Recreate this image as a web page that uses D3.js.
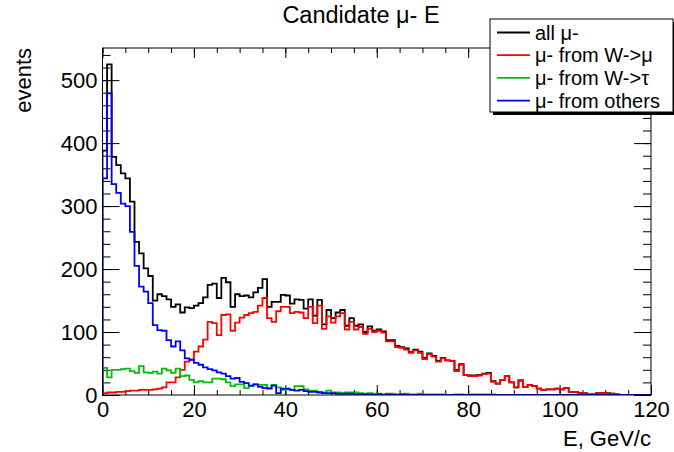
<!DOCTYPE html>
<html>
<head>
<meta charset="utf-8">
<script src="https://cdn.jsdelivr.net/npm/d3@7"></script>
<style>
  body { margin: 0; background: #fff; }
  svg { display: block; font-family: "Liberation Sans", Arial, Helvetica, sans-serif; }
</style>
</head>
<body>
<svg id="chart" width="674" height="452"></svg>
<script>
// ---- data (bin width 1 GeV, 0..120) ----
const binEdges = [0, 120];
const allMu = [
  388, 525, 378, 365, 352, 344, 307, 243, 225, 201,
  189, 150, 160, 157, 152, 140, 144, 131, 139, 138,
  142, 146, 155, 175, 177, 154, 186, 179, 140, 160,
  157, 158, 155, 163, 170, 184, 140, 148, 148, 159,
  158, 145, 152, 151, 137, 152, 126, 151, 112, 135,
  122, 131, 135, 110, 122, 110, 112, 100, 109, 102,
  104, 101, 87, 87, 78, 76, 74, 68, 72, 69,
  59, 66, 62, 54, 59, 55, 54, 40, 49, 32,
  31, 31, 32, 34, 35, 22, 18, 24, 30, 20,
  12, 23, 13, 16, 14, 10, 8, 9, 9, 10,
  9, 11, 5, 5, 3, 3, 1, 1, 3, 3,
  3, 2, 1, 0, 0, 0, 0, 0, 0, 0
];
const fromWmu = [
  3, 4, 4, 5, 5, 6, 7, 7, 8, 8,
  8, 9, 10, 12, 20, 20, 28, 40, 53, 56,
  69, 77, 88, 116, 114, 95, 127, 128, 102, 115,
  123, 127, 130, 132, 142, 154, 122, 116, 133, 140,
  140, 130, 132, 131, 122, 140, 114, 142, 105, 125,
  115, 125, 130, 104, 116, 104, 108, 97, 105, 100,
  102, 99, 85, 85, 76, 75, 72, 67, 71, 67,
  57, 65, 61, 53, 58, 55, 54, 38, 48, 32,
  30, 30, 31, 33, 34, 21, 18, 24, 30, 20,
  12, 23, 13, 16, 14, 10, 8, 9, 9, 10,
  9, 11, 5, 5, 3, 3, 1, 1, 3, 3,
  3, 2, 1, 0, 0, 0, 0, 0, 0, 0
];
const fromWtau = [
  43, 28, 40, 40, 41, 42, 38, 35, 46, 36,
  35, 37, 34, 42, 39, 35, 42, 30, 31, 24,
  20, 22, 20, 20, 26, 26, 25, 20, 14, 17,
  17, 11, 14, 17, 16, 16, 11, 16, 12, 8,
  9, 8, 14, 14, 9, 7, 7, 5, 4, 7,
  4, 4, 3, 4, 4, 4, 3, 2, 3, 2,
  2, 1, 2, 2, 1, 1, 2, 1, 1, 2,
  1, 1, 1, 1, 1, 0, 0, 1, 1, 0,
  1, 1, 1, 1, 1, 1, 0, 0, 0, 0,
  0, 0, 0, 0, 0, 0, 0, 0, 0, 0,
  0, 0, 0, 0, 0, 0, 0, 0, 0, 0,
  0, 0, 0, 0, 0, 0, 0, 0, 0, 0
];
const fromOthers = [
  344, 479, 335, 321, 304, 300, 259, 205, 172, 164,
  146, 111, 103, 102, 87, 77, 85, 71, 58, 56,
  51, 48, 44, 41, 39, 36, 34, 30, 26, 27,
  21, 19, 15, 17, 13, 11, 10, 15, 3, 10,
  10, 8, 7, 8, 6, 5, 5, 4, 3, 3,
  3, 2, 2, 2, 2, 1, 1, 1, 1, 0,
  1, 0, 1, 0, 0, 1, 0, 0, 0, 0,
  0, 0, 0, 0, 0, 0, 0, 0, 0, 0,
  0, 0, 0, 0, 0, 0, 0, 0, 0, 0,
  0, 0, 0, 0, 0, 0, 0, 0, 0, 0,
  0, 0, 0, 0, 0, 0, 0, 0, 0, 0,
  0, 0, 0, 0, 0, 0, 0, 0, 0, 0
];
const seriesNames = ["all \u03bc-", "\u03bc- from W->\u03bc", "\u03bc- from W->\u03c4", "\u03bc- from others"];
const seriesColors = ["#000000", "#ff0000", "#00c000", "#0000ff"];
const xMajorTicks = [0, 20, 40, 60, 80, 100, 120];
const yMajorTicks = [0, 100, 200, 300, 400, 500];
const titleText = "Candidate \u03bc- E";
const xTitle = "E, GeV/c";
const yTitle = "events";

// ---- layout ----
const svg = d3.select("#chart");
const L = 102.5, R = 651, T = 48, B = 395;
const FS = 22;
const x = d3.scaleLinear().domain(binEdges).range([L, R]);
const y = d3.scaleLinear().domain([0, 551]).range([B, T]);

svg.append("defs").append("clipPath").attr("id", "clip")
  .append("rect").attr("x", L).attr("y", T).attr("width", R - L).attr("height", B - T);

const xMinor = d3.range(0, 121, 5);
const yMinor = d3.range(0, 551, 20);

function styleAxis(g) {
  g.select(".domain").remove();
  g.selectAll(".tick line").attr("stroke", "#000").attr("stroke-width", 1);
  g.selectAll(".tick text").attr("fill", "#000").attr("font-size", FS);
}

// minor ticks
svg.append("g").attr("transform", `translate(0,${B})`)
  .call(d3.axisBottom(x).tickValues(xMinor).tickSize(-5).tickFormat("")).call(styleAxis);
svg.append("g").attr("transform", `translate(0,${T})`)
  .call(d3.axisTop(x).tickValues(xMinor).tickSize(-5).tickFormat("")).call(styleAxis);
svg.append("g").attr("transform", `translate(${L},0)`)
  .call(d3.axisLeft(y).tickValues(yMinor).tickSize(-8).tickFormat("")).call(styleAxis);
svg.append("g").attr("transform", `translate(${R},0)`)
  .call(d3.axisRight(y).tickValues(yMinor).tickSize(-8).tickFormat("")).call(styleAxis);
// major ticks
svg.append("g").attr("transform", `translate(0,${B})`)
  .call(d3.axisBottom(x).tickValues(xMajorTicks).tickSize(-10).tickPadding(6).tickFormat(d3.format("d"))).call(styleAxis);
svg.append("g").attr("transform", `translate(0,${T})`)
  .call(d3.axisTop(x).tickValues(xMajorTicks).tickSize(-10).tickFormat("")).call(styleAxis);
svg.append("g").attr("transform", `translate(${L},0)`)
  .call(d3.axisLeft(y).tickValues(yMajorTicks).tickSize(-17).tickPadding(5).tickFormat(d3.format("d"))).call(styleAxis);
svg.append("g").attr("transform", `translate(${R},0)`)
  .call(d3.axisRight(y).tickValues(yMajorTicks).tickSize(-17).tickFormat("")).call(styleAxis);

// histograms
const step = d3.line().x(d => x(d[0])).y(d => y(d[1])).curve(d3.curveStepAfter);
function histPoints(vals) {
  const pts = [[0, 0]];
  vals.forEach((v, i) => pts.push([i, v]));
  pts.push([vals.length, vals[vals.length - 1]]);
  pts.push([vals.length, 0]);
  return pts;
}
const allSeries = [allMu, fromWmu, fromWtau, fromOthers];
const plotG = svg.append("g").attr("clip-path", "url(#clip)");
allSeries.forEach((vals, k) => {
  plotG.append("path").attr("d", step(histPoints(vals)))
    .attr("fill", "none").attr("stroke", seriesColors[k]).attr("stroke-width", 1.8)
    .attr("stroke-linejoin", "miter");
});

// frame
svg.append("rect").attr("x", L).attr("y", T).attr("width", R - L).attr("height", B - T)
  .attr("fill", "none").attr("stroke", "#000").attr("stroke-width", 1);

// title
svg.append("text").attr("x", 361).attr("y", 23).attr("text-anchor", "middle")
  .attr("font-size", 23.5).text(titleText);
// axis titles
svg.append("text").attr("x", R).attr("y", 446).attr("text-anchor", "end")
  .attr("font-size", FS).text(xTitle);
svg.append("text").attr("transform", `translate(31,${T}) rotate(-90)`).attr("text-anchor", "end")
  .attr("font-size", FS).text(yTitle);

// legend
const lg = svg.append("g");
const LX = 490, LY = 19, LW = 183, LH = 93;
lg.append("rect").attr("x", LX + 3).attr("y", LY + 3).attr("width", LW).attr("height", LH).attr("fill", "#000");
lg.append("rect").attr("x", LX).attr("y", LY).attr("width", LW).attr("height", LH)
  .attr("fill", "#fff").attr("stroke", "#000").attr("stroke-width", 1);
const rowY = [32.5, 55.2, 77.9, 100.6];
seriesNames.forEach((name, k) => {
  lg.append("line").attr("x1", 497).attr("x2", 530).attr("y1", rowY[k]).attr("y2", rowY[k])
    .attr("stroke", seriesColors[k]).attr("stroke-width", 1.8);
  lg.append("text").attr("x", 535).attr("y", rowY[k]).attr("dy", "0.35em")
    .attr("font-size", 20).text(name);
});
</script>
</body>
</html>
